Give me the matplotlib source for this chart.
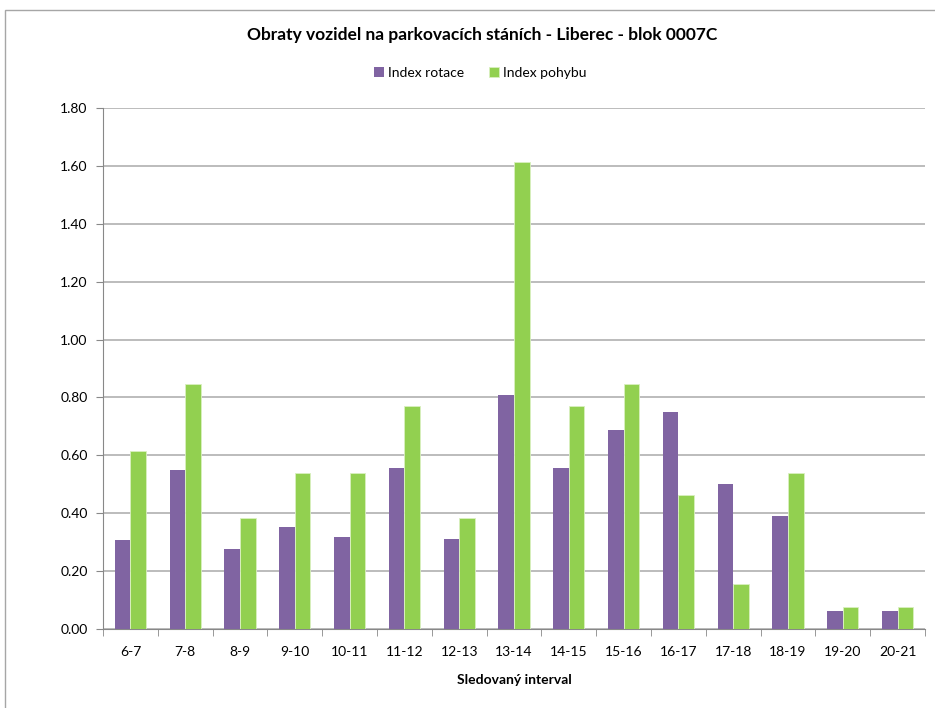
import matplotlib.pyplot as plt
import numpy as np
from matplotlib.patches import Rectangle

intervaly = ['6-7', '7-8', '8-9', '9-10', '10-11', '11-12', '12-13', '13-14',
             '14-15', '15-16', '16-17', '17-18', '18-19', '19-20', '20-21']
index_rotace = [0.307, 0.551, 0.278, 0.351, 0.318, 0.555, 0.311, 0.809,
                0.555, 0.687, 0.749, 0.500, 0.389, 0.061, 0.061]
index_pohybu = [0.615, 0.846, 0.385, 0.538, 0.538, 0.769, 0.385, 1.615,
                0.769, 0.846, 0.462, 0.154, 0.538, 0.077, 0.077]

plt.rcParams['font.family'] = ['Lato', 'DejaVu Sans']

fig = plt.figure(figsize=(9.35, 7.08), dpi=100)
W, H = 935, 708
ax = fig.add_axes([103 / W, 1 - 629 / H, (925 - 103) / W, (629 - 108) / H])

# chart border like in Excel
fig.patches.append(Rectangle((5 / W, -0.1), 1.2, 1 - 10 / H + 0.1, transform=fig.transFigure,
                             fill=False, edgecolor='#a6a6a6', linewidth=1))

x = np.arange(len(intervaly))
w = 0.283
ax.bar(x - w / 2, index_rotace, w, color='#8064A2', label='Index rotace', zorder=3)
ax.bar(x + w / 2, index_pohybu, w, color='#92D050', edgecolor='#d9f0c0', linewidth=0.6,
       label='Index pohybu', zorder=3)

ax.set_xlim(-0.5, len(intervaly) - 0.5)
ax.set_ylim(0, 1.8)
ax.set_yticks(np.arange(0, 1.81, 0.2))
ax.set_yticklabels([f'{v:.2f}' for v in np.arange(0, 1.81, 0.2)], fontsize=10)
ax.yaxis.grid(True, color='#b0b0b0', linewidth=1.2, zorder=0)
ax.set_axisbelow(True)

ax.set_xticks(x)
ax.set_xticklabels(intervaly, fontsize=10)
ax.set_xticks(np.arange(-0.5, len(intervaly)), minor=True)
ax.tick_params(axis='x', which='major', length=0, pad=12)
ax.tick_params(axis='x', which='minor', length=5, color='#888888', direction='out')
ax.tick_params(axis='y', length=5, color='#888888', pad=6)

for s in ['top', 'right']:
    ax.spines[s].set_visible(False)
ax.spines['left'].set_color('#888888')
ax.spines['bottom'].set_color('#888888')

ax.set_xlabel('Sledovaný interval', fontsize=10, fontweight='bold', labelpad=12)
fig.text(482 / W, 1 - 35 / H, 'Obraty vozidel na parkovacích stáních - Liberec - blok 0007C',
         ha='center', va='center', fontsize=12.5, fontweight='bold')
fig.legend(loc='center', bbox_to_anchor=(480 / W, 1 - 73 / H), ncol=2, frameon=False,
           fontsize=10, handlelength=0.7, handleheight=0.7, handletextpad=0.3, columnspacing=1.8)

plt.savefig('out.png', dpi=100)
